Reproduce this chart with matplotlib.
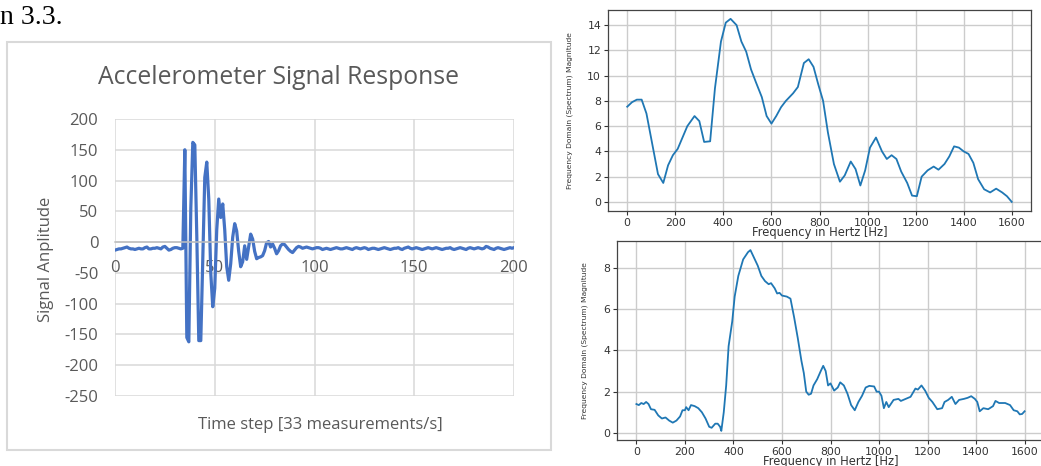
import matplotlib.pyplot as plt
from matplotlib.patches import Rectangle

plt.rcParams["axes.unicode_minus"] = False

# accelerometer signal (left chart)
time_steps = list(range(0, 201))
amp_pre = [-13, -12, -11, -11, -10, -9, -8, -10, -11, -11, -12, -11, -10, -11, -11, -9, -8, -11,
           -11, -10, -10, -9, -10, -11, -8, -7, -10, -13, -12, -10, -9, -9, -10, -11, -10]
amp_burst = [150, -155, -162, 55, 162, 158, 10, -160, -160, -30,
             105, 130, 70, -50, -105, -75, 20, 70, 40, 62,
             20, -40, -62, -35, 8, 30, 18, -15, -40, -32,
             -6, -28, -8, 13, 5, -15, -27, -25, -24, -22,
             -14, -1, 1, -8, -3, -10, -19, -14, -6, -3,
             -4, -8, -12, -15, -17, -13, -9, -7, -8, -10]
amp_post = [-9, -8, -9, -10, -11, -10, -9, -9, -10, -12, -11, -10, -11, -12, -11, -10, -9, -10, -11, -11,
            -10, -9, -10, -11, -12, -10, -9, -10, -11, -10, -9, -10, -12, -11, -10, -10, -11, -12, -11, -10,
            -9, -10, -11, -12, -11, -10, -10, -9, -11, -12, -10, -9, -8, -10, -11, -10, -9, -10, -11, -12,
            -11, -10, -9, -10, -11, -10, -9, -10, -11, -12, -11, -10, -10, -9, -11, -12, -11, -10, -9, -10,
            -11, -12, -10, -9, -10, -11, -10, -9, -10, -11, -10, -7, -8, -10, -11, -12, -10, -9, -10, -11,
            -12, -11, -10, -9, -10, -9]
amplitude = amp_pre + amp_burst + amp_post

# spectrum, top chart
freq_top = [0, 20, 40, 60, 80, 100, 128, 150, 170, 190, 210, 230, 250, 280, 300, 320, 345, 365, 390,
            410, 430, 455, 475, 495, 515, 535, 560, 580, 600, 620, 640, 660, 690, 710, 735, 755, 775,
            795, 815, 835, 860, 885, 905, 930, 950, 970, 990, 1010, 1035, 1060, 1080, 1100, 1120, 1140,
            1165, 1185, 1205, 1225, 1250, 1275, 1295, 1320, 1340, 1360, 1380, 1400, 1420, 1440, 1460,
            1485, 1510, 1535, 1560, 1580, 1600]
mag_top = [7.54, 7.9, 8.1, 8.1, 7.0, 5.0, 2.2, 1.5, 2.9, 3.7, 4.2, 5.1, 6.0, 6.8, 6.4, 4.75, 4.8, 9.0, 12.7,
           14.2, 14.5, 14.0, 12.7, 11.9, 10.5, 9.5, 8.3, 6.8, 6.2, 6.8, 7.5, 8.0, 8.6, 9.1, 11.0, 11.3, 10.7,
           9.3, 8.0, 5.5, 3.0, 1.6, 2.1, 3.2, 2.6, 1.3, 2.5, 4.3, 5.1, 4.0, 3.4, 3.7, 3.4, 2.4,
           1.5, 0.5, 0.45, 2.0, 2.5, 2.8, 2.55, 3.0, 3.6, 4.4, 4.3, 4.0, 3.8, 3.1, 1.8,
           1.0, 0.75, 1.05, 0.75, 0.45, 0.0]

# spectrum, bottom chart
freq_bot = [0, 10, 20, 30, 40, 50, 60, 75, 90, 105, 120, 135, 150, 165, 180, 190, 200, 205, 215, 225,
            240, 255, 270, 285, 300, 310, 325, 335, 345, 350, 360, 370, 380, 395, 405, 420, 440, 460,
            470, 480, 500, 515, 530, 545, 555, 570, 580, 590, 600, 620, 635, 650, 665, 680, 690, 700,
            710, 720, 730, 745, 760, 770, 780, 790, 800, 815, 830, 840, 855, 870, 885, 900, 915, 930,
            945, 960, 980, 990, 1000, 1010, 1020, 1030, 1040, 1060, 1080, 1090, 1110, 1130, 1150, 1160,
            1175, 1190, 1205, 1220, 1240, 1260, 1270, 1285, 1300, 1315, 1330, 1350, 1365, 1380, 1395,
            1405, 1415, 1430, 1450, 1470, 1480, 1495, 1520, 1540, 1555, 1570, 1580, 1590, 1600]
mag_bot = [1.4, 1.35, 1.45, 1.4, 1.5, 1.4, 1.15, 1.12, 0.85, 0.7, 0.75, 0.6, 0.5, 0.6, 0.8, 1.1, 1.1, 1.25, 1.1, 1.35,
           1.3, 1.2, 1.0, 0.7, 0.3, 0.25, 0.45, 0.45, 0.3, 0.1, 1.0, 2.3, 4.2, 5.4, 6.6, 7.6, 8.4, 8.75,
           8.85, 8.6, 8.1, 7.6, 7.35, 7.2, 7.25, 7.0, 6.75, 6.78, 6.65, 6.6, 6.5, 5.6, 4.6, 3.5, 2.9, 2.0,
           1.85, 1.9, 2.3, 2.6, 3.0, 3.25, 3.0, 2.3, 2.4, 2.05, 2.2, 2.45, 2.3, 1.9, 1.35, 1.1, 1.5, 1.8,
           2.2, 2.28, 2.25, 2.0, 2.0, 1.8, 1.2, 1.5, 1.25, 1.6, 1.65, 1.55, 1.65, 1.75, 2.15, 2.1,
           2.3, 2.05, 1.7, 1.5, 1.15, 1.2, 1.5, 1.6, 1.75, 1.4, 1.6, 1.65, 1.7, 1.78, 1.65,
           1.5, 1.05, 1.2, 1.15, 1.3, 1.55, 1.45, 1.45, 1.35, 1.1, 1.05, 0.9, 0.92, 1.05]

fig = plt.figure(figsize=(10.41, 4.66), dpi=100)

fig.text(0.0, 1 - 24 / 466, "n 3.3.", family="Liberation Serif", fontsize=20, va="baseline")

# left, excel style chart
grey = "#595959"
fig.patches.append(Rectangle((7 / 1041, 1 - 450 / 466), 544 / 1041, 408 / 466, transform=fig.transFigure,
                             fill=False, ec="#D9D9D9", lw=1.5))
ax1 = fig.add_axes([115 / 1041, 1 - 396 / 466, 399 / 1041, 277 / 466])
ax1.plot(time_steps, amplitude, color="#4472C4", lw=2.3)
ax1.set_xlim(0, 200)
ax1.set_ylim(-250, 200)
ax1.set_xticks([0, 50, 100, 150, 200])
ax1.set_yticks(range(-250, 201, 50))
ax1.grid(True, color="#D9D9D9", lw=1.1)
ax1.set_axisbelow(True)
for s in ["top", "right", "left"]:
    ax1.spines[s].set_visible(False)
ax1.spines["bottom"].set_position(("data", 0))
ax1.spines["bottom"].set_color("#BFBFBF")
ax1.spines["bottom"].set_linewidth(1.1)
ax1.tick_params(length=0, labelsize=12, labelcolor=grey)
ax1.tick_params(axis="x", pad=13)
ax1.tick_params(axis="y", pad=12)
for lab in ax1.get_xticklabels() + ax1.get_yticklabels():
    lab.set_family("Open Sans")
fig.text(278 / 1041, 1 - 78 / 466, "Accelerometer Signal Response", ha="center", va="center",
         fontsize=17.8, color=grey, family="Open Sans")
fig.text(46 / 1041, 1 - 259 / 466, "Signal Anplitude", ha="center", va="center", rotation=90,
         fontsize=12, color=grey, family="Open Sans")
fig.text(320 / 1041, 1 - 425 / 466, "Time step [33 measurements/s]", ha="center", va="center",
         fontsize=12, color=grey, family="Open Sans")


def spectrum(ax, f, m, yticks, ylab_x):
    ax.plot(f, m, color="#1f77b4", lw=1.3)
    ax.set_xlim(-80, 1680)
    ax.set_xticks(range(0, 1601, 200))
    ax.set_yticks(yticks)
    ax.grid(True, color="#cccccc", lw=1.0)
    ax.set_axisbelow(True)
    for s in ax.spines.values():
        s.set_color("#444444")
        s.set_linewidth(0.9)
    ax.tick_params(labelsize=7.8, length=3, pad=2, colors="#333333")
    ax.set_xlabel("Frequency in Hertz [Hz]", fontsize=8.3, color="#333333")
    ax.set_ylabel("Frequency Domain (Spectrum) Magnitude", fontsize=5.4, color="#333333")
    ax.xaxis.set_label_coords(0.501, -0.075)
    ax.yaxis.set_label_coords(ylab_x, 0.5)


ax2 = fig.add_axes([608 / 1041, 1 - 211 / 466, 423 / 1041, 201 / 466])
spectrum(ax2, freq_top, mag_top, range(0, 15, 2), -0.083)
ax2.set_ylim(-0.72, 15.2)

ax3 = fig.add_axes([617 / 1041, 1 - 440 / 466, 427 / 1041, 199 / 466])
spectrum(ax3, freq_bot, mag_bot, [0, 2, 4, 6, 8], -0.068)
ax3.set_ylim(-0.34, 9.29)

fig.savefig("out.png", dpi=100)
